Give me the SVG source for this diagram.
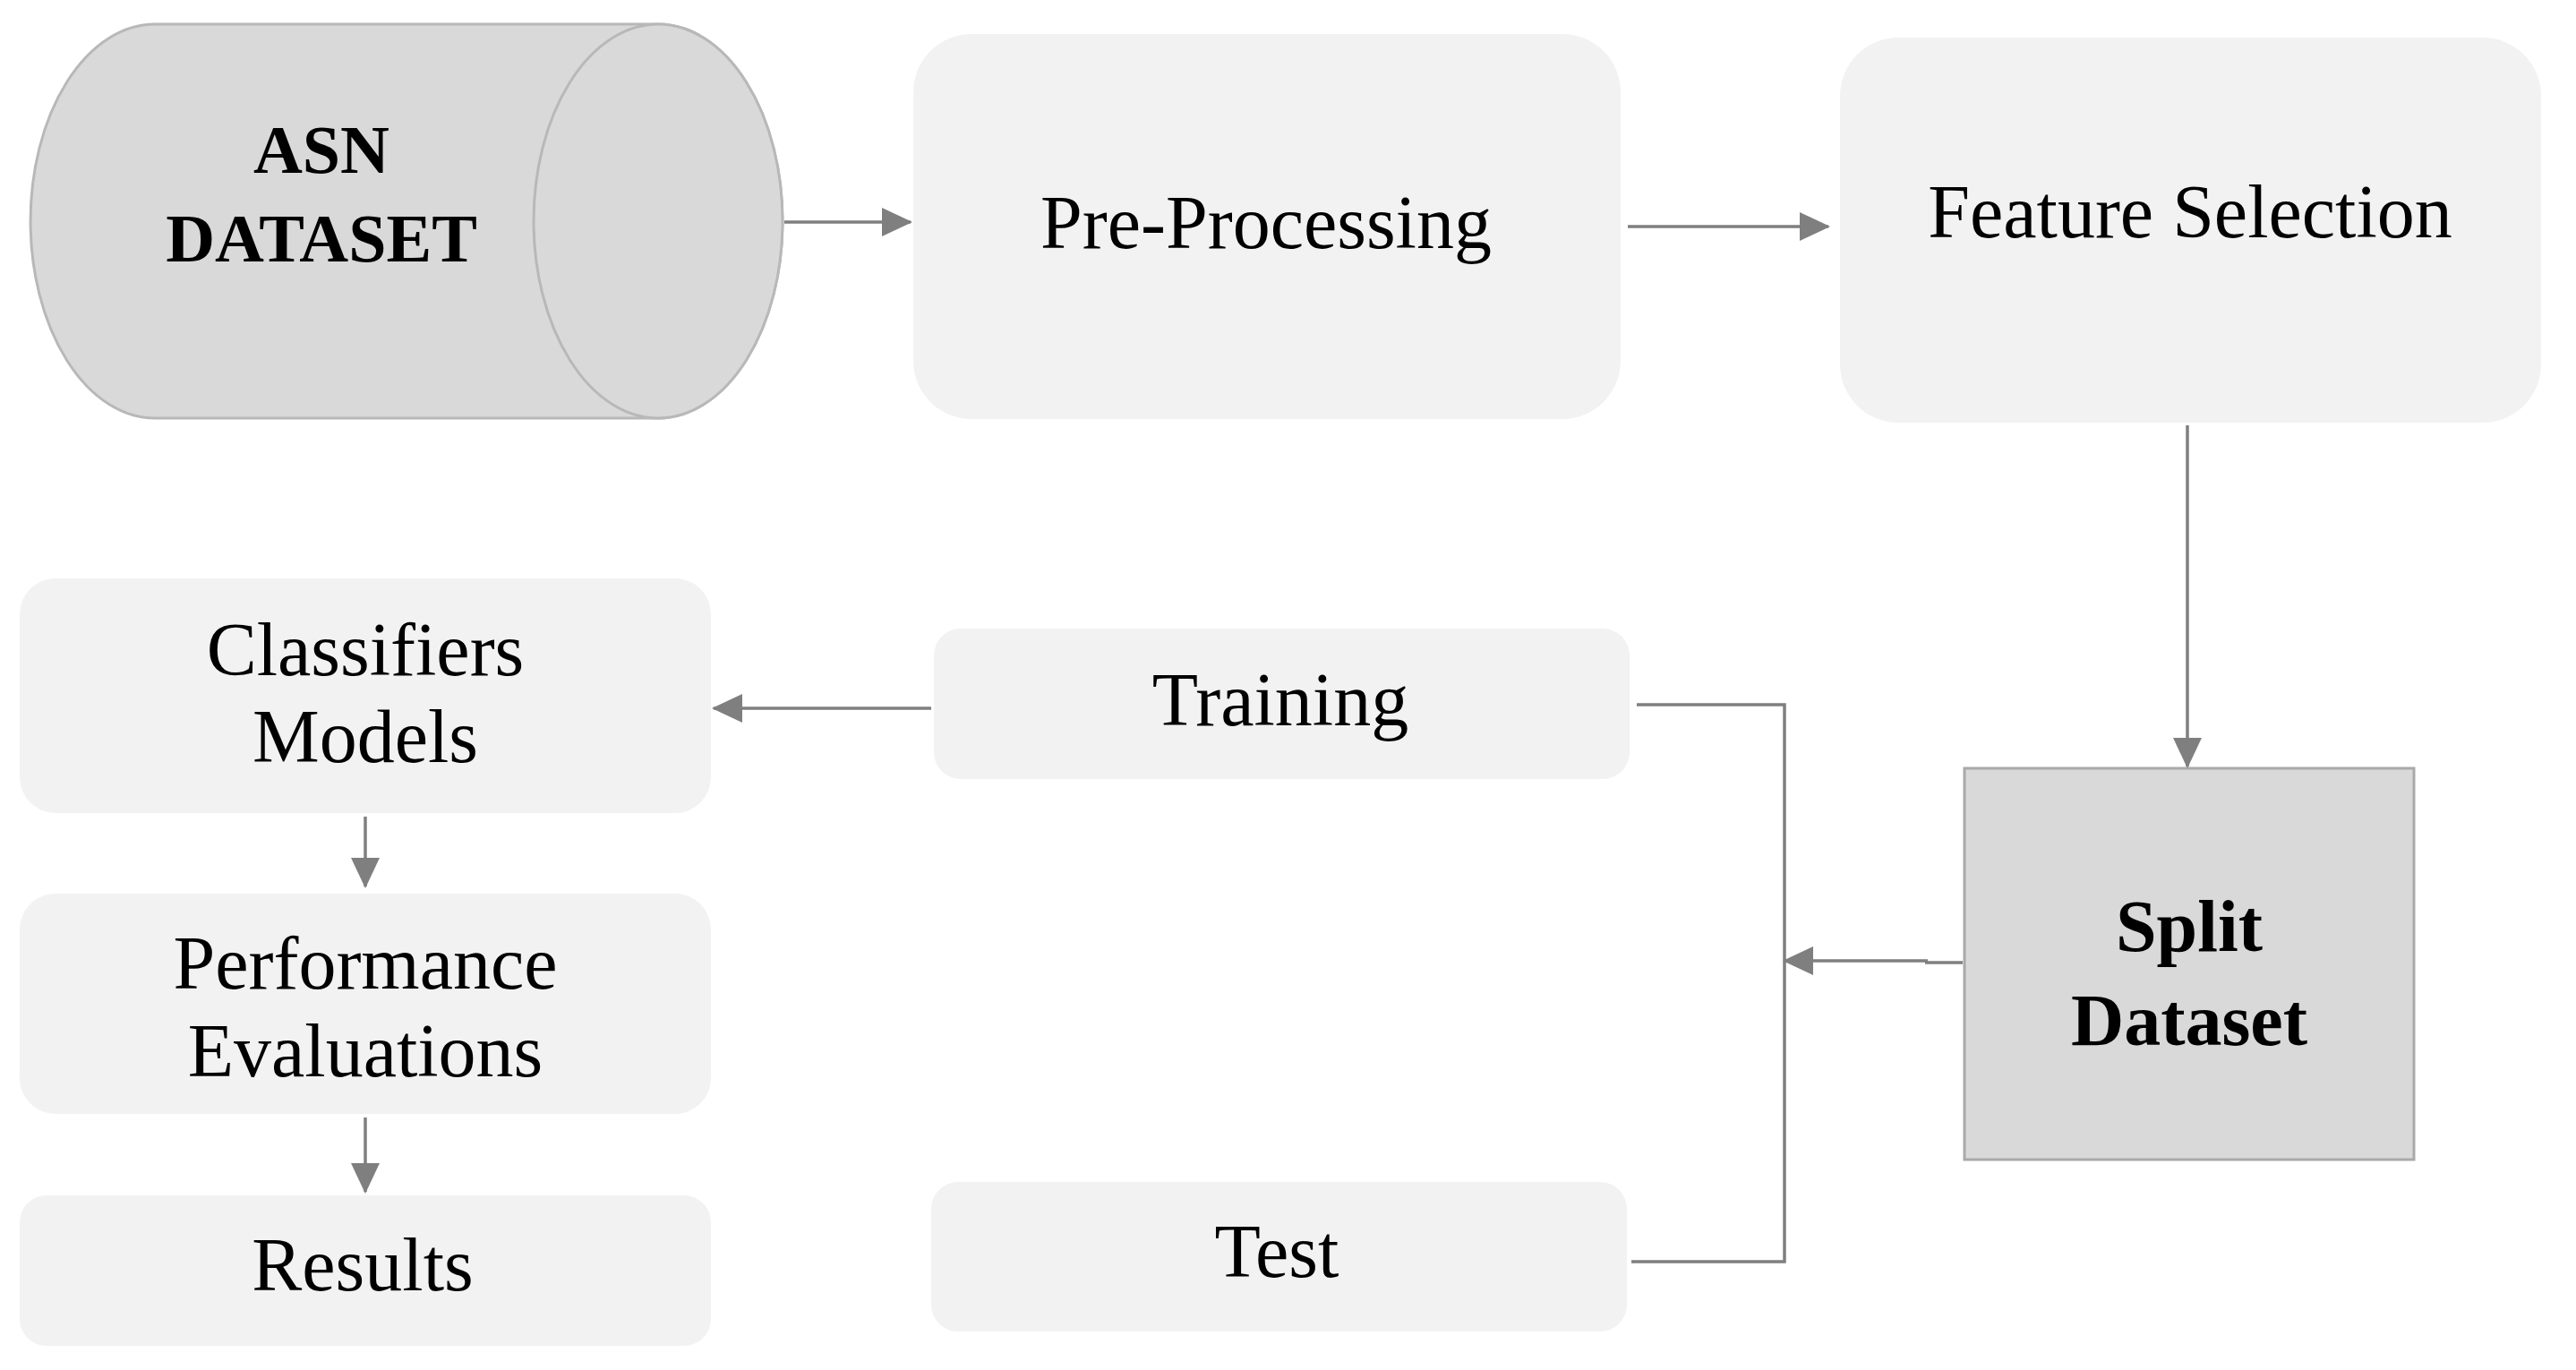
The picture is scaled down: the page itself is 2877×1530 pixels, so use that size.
<svg xmlns="http://www.w3.org/2000/svg" width="2877" height="1530" viewBox="0 0 2877 1530">
<style>
.box{fill:#f2f2f2;stroke:none}
.dark{fill:#d9d9d9;stroke:#a9a9a9;stroke-width:3}
.cyl{fill:#d9d9d9;stroke:#b8b8b8;stroke-width:3}
.t{font-family:"Liberation Serif","Times New Roman",serif;font-size:84px;fill:#000;text-anchor:middle}
.b{font-family:"Liberation Serif","Times New Roman",serif;font-weight:bold;fill:#000;text-anchor:middle}
.c{fill:none;stroke:#7f7f7f;stroke-width:3.5}
</style>
<defs>
<marker id="ah" markerUnits="userSpaceOnUse" markerWidth="34" markerHeight="32" refX="32" refY="16" orient="auto">
<path d="M0,0 L34,16 L0,32 Z" fill="#7f7f7f"/>
</marker>
</defs>
<rect width="2877" height="1530" fill="#fff"/>
<g id="asn-dataset">
<path class="cyl" d="M173,27 L735,27 A139,220 0 0 1 735,467 L173,467 A139,220 0 0 1 173,27 Z"/>
<ellipse class="cyl" cx="735" cy="247" rx="139" ry="220"/>
<text class="b" x="359" y="193" font-size="76">ASN</text>
<text class="b" x="359" y="292" font-size="76">DATASET</text>
</g>
<g id="pre-processing">
<rect class="box" x="1020" y="38" width="790" height="430" rx="65"/>
<text class="t" x="1414" y="277">Pre-Processing</text>
</g>
<g id="feature-selection">
<rect class="box" x="2055" y="42" width="783" height="430" rx="65"/>
<text class="t" x="2446" y="265">Feature Selection</text>
</g>
<g id="split-dataset">
<rect class="dark" x="2194" y="858" width="502" height="437"/>
<text class="b" x="2445" y="1062" font-size="82">Split</text>
<text class="b" x="2445" y="1167" font-size="82">Dataset</text>
</g>
<g id="training">
<rect class="box" x="1043" y="702" width="777" height="168" rx="30"/>
<text class="t" x="1430" y="810">Training</text>
</g>
<g id="test">
<rect class="box" x="1040" y="1320" width="777" height="167" rx="30"/>
<text class="t" x="1426" y="1426">Test</text>
</g>
<g id="classifiers-models">
<rect class="box" x="22" y="646" width="772" height="262" rx="40"/>
<text class="t" x="408" y="754">Classifiers</text>
<text class="t" x="408" y="851">Models</text>
</g>
<g id="performance-evaluations">
<rect class="box" x="22" y="998" width="772" height="246" rx="40"/>
<text class="t" x="408" y="1104">Performance</text>
<text class="t" x="408" y="1202">Evaluations</text>
</g>
<g id="results">
<rect class="box" x="22" y="1335" width="772" height="168" rx="30"/>
<text class="t" x="405" y="1441">Results</text>
</g>
<g id="connectors">
<line class="c" x1="876" y1="248" x2="1017" y2="248" marker-end="url(#ah)"/>
<line class="c" x1="1818" y1="253" x2="2042" y2="253" marker-end="url(#ah)"/>
<line class="c" x1="2443" y1="475" x2="2443" y2="856" marker-end="url(#ah)"/>
<line class="c" x1="2192" y1="1075" x2="2150" y2="1075" stroke-width="3"/>
<line class="c" x1="2153" y1="1073" x2="1993" y2="1073" stroke-width="5" marker-end="url(#ah)"/>
<polyline class="c" points="1828,787 1993,787 1993,1409 1822,1409" stroke="#8c8c8c"/>
<line class="c" x1="1040" y1="791" x2="797" y2="791" marker-end="url(#ah)"/>
<line class="c" x1="408" y1="912" x2="408" y2="990" marker-end="url(#ah)"/>
<line class="c" x1="408" y1="1248" x2="408" y2="1331" marker-end="url(#ah)"/>
</g>
</svg>
